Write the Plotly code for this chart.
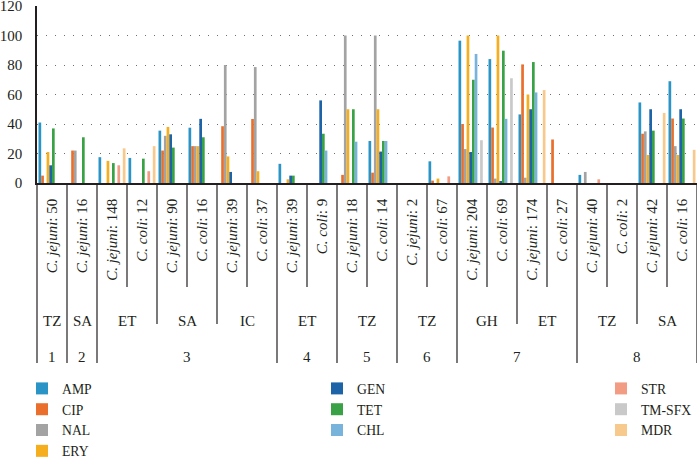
import plotly.graph_objects as go

species = ["C. jejuni", "C. jejuni", "C. jejuni", "C. coli", "C. jejuni", "C. coli",
           "C. jejuni", "C. coli", "C. jejuni", "C. coli", "C. jejuni", "C. coli",
           "C. jejuni", "C. coli", "C. jejuni", "C. coli", "C. jejuni", "C. coli",
           "C. jejuni", "C. coli", "C. jejuni", "C. coli"]
n_isolates = [50, 16, 148, 12, 90, 16, 39, 37, 39, 9, 18, 14, 2, 67, 204, 69, 174, 27, 40, 2, 42, 16]
country = ["TZ", "SA", "ET", "ET", "SA", "SA", "IC", "IC", "ET", "ET", "TZ", "TZ",
           "TZ", "TZ", "GH", "GH", "ET", "ET", "TZ", "TZ", "SA", "SA"]
study = [1, 2, 3, 3, 3, 3, 3, 3, 4, 4, 5, 5, 6, 6, 7, 7, 7, 7, 8, 8, 8, 8]

AMP = [41, 0, 17.5, 17, 35.5, 37.5, 0, 0, 13, 0, 0, 28.5, 0, 14.7, 96.5, 84, 46.5, 0, 5.5, 0, 54.6, 69]
CIP = [5, 22, 0, 0, 22, 25, 38.5, 43.4, 0, 0, 5.5, 7, 0, 1.6, 40, 37.6, 80.4, 29.5, 0, 0, 33.4, 43.7]
NAL = [0, 22, 0, 0, 32, 25, 80, 78.6, 0, 0, 100, 100, 0, 0, 23, 3, 3.6, 0, 7.5, 0, 35, 25]
ERY = [21, 0, 15, 0, 38, 25, 18, 8, 2.5, 0, 50, 50, 0, 3, 100, 100, 60, 0, 0, 0, 19, 19]
GEN = [12, 0, 0, 0, 33, 43.5, 7.5, 0, 5, 56, 0, 21.3, 0, 0, 21, 1, 50, 0, 0, 0, 50, 50]
TET = [37, 31, 13.5, 16.5, 24, 31, 0, 0, 5, 33.4, 50, 28.5, 0, 0, 70, 89.7, 82, 0, 0, 0, 35.5, 43.7]
CHL = [0, 0, 0, 0, 0, 0, 0, 0, 0, 22, 28, 28.5, 0, 0, 87.5, 43.5, 61.4, 0, 0, 0, 0, 0]
STR = [0, 0, 12, 8, 0, 0, 0, 0, 0, 0, 0, 0, 0, 4.5, 0, 0, 0, 0, 2.5, 0, 0, 0]
TMSFX = [0, 0, 0, 0, 0, 0, 0, 0, 0, 0, 0, 0, 0, 0, 29, 71, 0, 0, 0, 0, 0, 0]
MDR = [0, 0, 23.5, 25, 0, 0, 0, 0, 0, 0, 0, 0, 0, 0, 0, 0, 63, 0, 0, 0, 47.5, 22.5]

y_ticks = [0, 20, 40, 60, 80, 100, 120]

series = [
    ("AMP", AMP, "#2A94C6", "legend"),
    ("CIP", CIP, "#EA6F2C", "legend"),
    ("NAL", NAL, "#A3A3A3", "legend"),
    ("ERY", ERY, "#F5AE1E", "legend"),
    ("GEN", GEN, "#1C63A8", "legend2"),
    ("TET", TET, "#3AA246", "legend2"),
    ("CHL", CHL, "#78B3DC", "legend2"),
    ("STR", STR, "#F29D83", "legend3"),
    ("TM-SFX", TMSFX, "#C9C9C9", "legend3"),
    ("MDR", MDR, "#F8C98C", "legend3"),
]

FONT = "Liberation Serif"
TXT = "#231F20"
ncat = len(species)
xs = list(range(ncat))
labels = [f"<i>{s}</i>: {k}" for s, k in zip(species, n_isolates)]

fig = go.Figure()
for name, vals, col, lg in series:
    fig.add_trace(go.Bar(x=xs, y=vals, name=name, marker=dict(color=col, line=dict(width=0)),
                         legend=lg))

# pixel -> paper helpers (plot area: x 37..697, y 6..183)
LEFT, RIGHT = 37, 697
TOP, BOT = 6, 183
H = BOT - TOP
W = RIGHT - LEFT


def py(p):
    return (BOT - p) / H


def px(p):
    return (p - LEFT) / W


shapes = []
for b in range(ncat + 1):
    if b == 0 or b == ncat:
        depth = 363
    elif study[b] != study[b - 1]:
        depth = 363
    elif country[b] != country[b - 1]:
        depth = 324
    else:
        depth = 287
    shapes.append(dict(type="line", xref="paper", yref="paper", x0=b / ncat, x1=b / ncat,
                       y0=0, y1=py(depth), line=dict(color=TXT, width=1.2)))

annotations = []


def runs(arr, key=None):
    out = []
    start = 0
    for i in range(1, len(arr) + 1):
        if i == len(arr) or arr[i] != arr[start] or (key and key[i] != key[start]):
            out.append((start, i - 1, arr[start]))
            start = i
    return out


for s, e, c in runs(country, study):
    annotations.append(dict(x=(s + e) / 2, y=py(321), xref="x", yref="paper", text=c,
                            showarrow=False, yanchor="middle",
                            font=dict(family=FONT, size=15, color=TXT)))
for s, e, c in runs(study):
    annotations.append(dict(x=(s + e) / 2, y=py(357), xref="x", yref="paper", text=str(c),
                            showarrow=False, yanchor="middle",
                            font=dict(family=FONT, size=15, color=TXT)))

leg_common = dict(font=dict(family=FONT, size=13.7, color=TXT), yanchor="top", xanchor="left",
                  bgcolor="rgba(0,0,0,0)", tracegroupgap=0, itemwidth=30)
fig.update_layout(
    width=697, height=462,
    margin=dict(l=LEFT, r=697 - RIGHT, t=TOP, b=462 - BOT, autoexpand=False),
    paper_bgcolor="white", plot_bgcolor="white",
    barmode="group", bargap=0.1, bargroupgap=0,
    font=dict(family=FONT, color=TXT),
    shapes=shapes, annotations=annotations,
    legend=dict(x=px(22), y=py(373), **leg_common),
    legend2=dict(x=px(317), y=py(373), **leg_common),
    legend3=dict(x=px(601), y=py(373), **leg_common),
)
fig.update_xaxes(range=[-0.5, ncat - 0.5], tickmode="array", tickvals=xs, ticktext=labels,
                 tickangle=-90, ticks="", ticklabelstandoff=8, showgrid=False,
                 showline=True, linecolor=TXT, linewidth=1.5, zeroline=False,
                 tickfont=dict(family=FONT, size=15, color=TXT))
fig.update_yaxes(range=[0, 120], tickmode="array", tickvals=y_ticks, showgrid=True,
                 gridcolor="#6E6E6E", griddash="1px,8px", gridwidth=1.2, zeroline=False,
                 showline=True, linecolor=TXT, linewidth=1.5,
                 ticks="outside", ticklen=10, tickcolor="rgba(0,0,0,0)",
                 ticklabeloverflow="allow",
                 tickfont=dict(family=FONT, size=15, color=TXT))

fig.write_html("out.html", config={"displayModeBar": False},
               post_script="document.body.style.margin='0px';")
